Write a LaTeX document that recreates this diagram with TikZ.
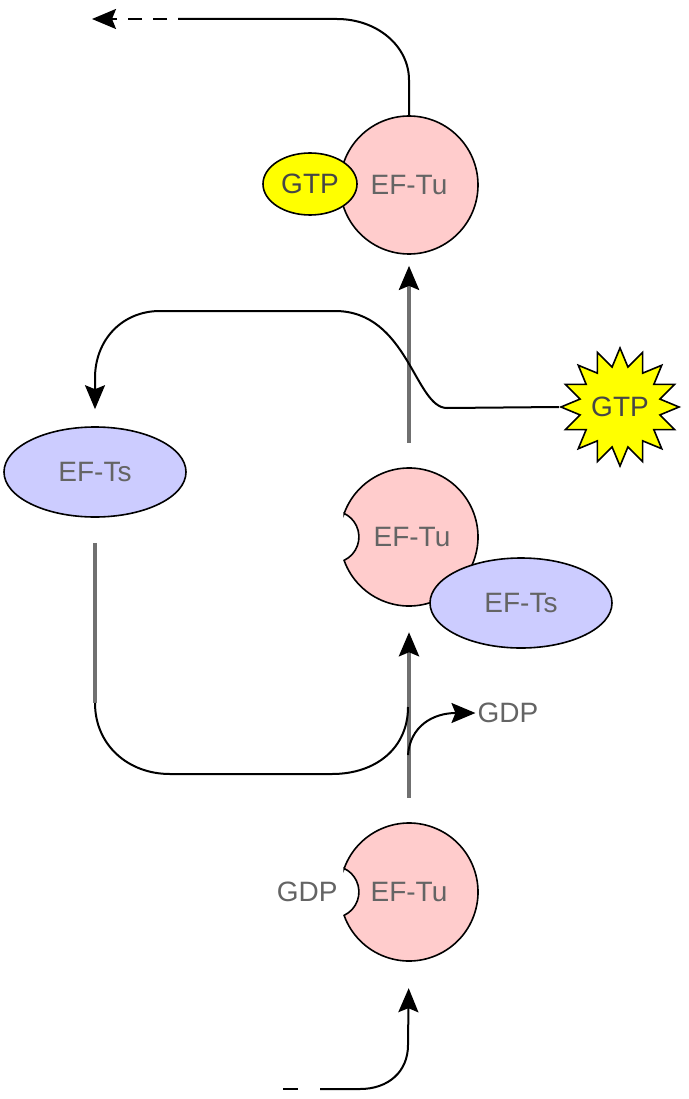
\documentclass[tikz,border=0pt]{standalone}
\usepackage{fontspec}
\setmainfont{Liberation Sans}
\usetikzlibrary{positioning,arrows.meta,shapes.geometric}

\definecolor{tupink}{RGB}{255,204,204}
\definecolor{tsblue}{RGB}{204,204,255}
\definecolor{gtpyellow}{RGB}{255,255,0}
\definecolor{labelgray}{RGB}{100,100,100}
\definecolor{spinegray}{RGB}{112,112,112}

\newcommand{\bigsans}{\fontsize{28}{32}\selectfont}
% EF-Tu body with the empty nucleotide pocket on its left
\newcommand{\notchedtu}[1]{%
  \filldraw[fill=tupink, draw=black, line width=1.6pt] ([shift={(160.2:69pt)}]#1)
    arc[start angle=160.2, end angle=-160.2, radius=69pt]
    arc[start angle=-64.6, end angle=64.6, radius=26pt] -- cycle;}

\begin{document}
\begin{tikzpicture}[x=1pt, y=-1pt,
    tu/.style={circle, draw=black, line width=1.6pt, fill=tupink, minimum size=138pt, inner sep=0pt, font=\bigsans, text=labelgray},
    tuhole/.style={circle, minimum size=138pt, inner sep=0pt, font=\bigsans, text=labelgray},
    ts/.style={ellipse, draw=black, line width=1.6pt, fill=tsblue, minimum width=182pt, minimum height=90pt, inner sep=0pt, font=\bigsans, text=labelgray},
    gtp/.style={ellipse, draw=black, line width=1.6pt, fill=gtpyellow, minimum width=94pt, minimum height=62pt, inner sep=0pt, font=\bigsans, text=labelgray!70!black},
    burst/.style={star, star points=16, star point ratio=1.45, draw=black, line width=1.6pt, fill=gtpyellow, minimum size=116pt, inner sep=0pt, font=\bigsans, text=labelgray!70!black},
    plain/.style={font=\bigsans, text=labelgray, inner sep=2pt},
    link/.style={draw=black, line width=2pt},
    spine/.style={draw=spinegray, line width=4pt},
    tip/.style={-{Stealth[length=24pt, width=20pt, inset=4pt, color=black]}}
]
\useasboundingbox (0,0) rectangle (688,1099);

% Ternary complex on top
\node[tu] (tutop) at (409,185) {EF-Tu};
\node[gtp] (gtpbound) at (310,184) {GTP};

% EF-Tu . EF-Ts
\notchedtu{409,537}
\node[tuhole] (tumid) at (409,537) {\hspace{6pt}EF-Tu};
\node[ts] (tsmid) at (521,603) {EF-Ts};

% EF-Tu . GDP
\notchedtu{409,892}
\node[tuhole] (tubot) at (409,892) {EF-Tu};
\node[plain, left=0pt of tubot.west] (gdpbound) {GDP};

% free EF-Ts and free GTP
\node[ts] (tsfree) at (95,472) {EF-Ts};
\node[burst] (gtpfree) at (620,407) {GTP};

% released GDP
\node[plain] (gdpout) at (508,713) {GDP};

% main vertical steps
\draw[spine, tip, shorten <=25pt, shorten >=11pt] (tumid.north) -- (tutop.south);
\draw[spine, tip, shorten <=25pt, shorten >=26pt] (tubot.north) -- (tumid.south);

% leaving to the ribosome
\coordinate (dashtop) at (178,19);
\coordinate (outtop) at (92,19);
\draw[link] (tutop.north) -- (409,80) .. controls (409,46) and (377,19) .. (337,19) -- (dashtop);
\draw[link, tip, dash pattern=on 14pt off 11pt, dash phase=14pt] (dashtop) -- (outtop);

% coming back from the ribosome
\coordinate (inbot) at (283,1089);
\coordinate (dashbot) at (320,1089);
\draw[link, dash pattern=on 15pt off 22pt] (inbot) -- (dashbot);
\draw[link, tip, shorten >=27pt] (dashbot) -- (360,1089) .. controls (388,1089) and (408,1072) .. (408,1045) -- (tubot.south);

% GTP swaps in, EF-Ts is released
\draw[link, tip, shorten >=17pt] (gtpfree.west) -- (447,408) .. controls (415,408) and (408,311) .. (335,311) -- (160,311) .. controls (122,311) and (95,340) .. (95,378) -- (tsfree.north);

% free EF-Ts joins EF-Tu . GDP
\coordinate (tsdown) at (95,703);
\coordinate (join) at (408,707);
\draw[spine, shorten <=25pt] (tsfree.south) -- (tsdown);
\draw[link] (tsdown) .. controls (95,745) and (128,774) .. (170,774) -- (332,774) .. controls (376,774) and (408,748) .. (join);

% GDP leaves
\coordinate (gdpfork) at (408,755);
\draw[link, tip] (gdpfork) .. controls (410,727) and (432,713) .. (gdpout.west);

\end{tikzpicture}
\end{document}
